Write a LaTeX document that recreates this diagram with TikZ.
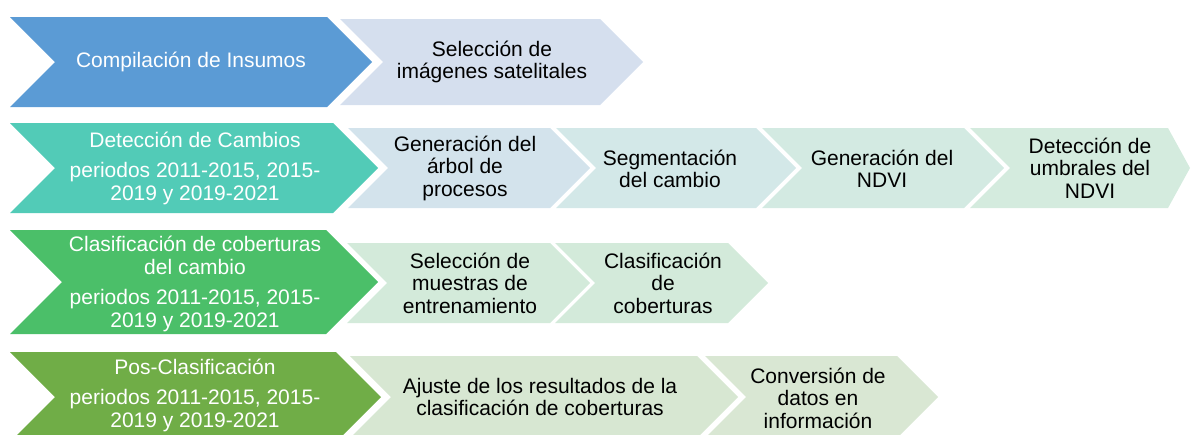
\documentclass[tikz,border=0pt]{standalone}
\usepackage{fontspec}
\setmainfont{Liberation Sans}
\definecolor{cblue}{HTML}{5B9BD5}
\definecolor{cteal}{HTML}{52CBB7}
\definecolor{cgreen}{HTML}{4BBF69}
\definecolor{colive}{HTML}{70AD47}
\definecolor{lone}{HTML}{D5DFEE}
\definecolor{ltwoa}{HTML}{D3E3EC}
\definecolor{ltwob}{HTML}{D3E8E8}
\definecolor{ltwoc}{HTML}{D3EAE2}
\definecolor{ltwod}{HTML}{D4EBDE}
\definecolor{lthree}{HTML}{D3EADA}
\definecolor{lfoura}{HTML}{D7E7D2}
\definecolor{lfourb}{HTML}{D9E7D3}
% #1 left x, #2 shoulder x, #3 top y, #4 bottom y, #5 notch depth, #6 tip depth, #7 colour
\newcommand{\chevshape}[7]{%
  \fill[#7] (#1,#3) -- (#2,#3) -- ({#2+#6},{(#3+#4)/2}) -- (#2,#4) -- (#1,#4) -- ({#1+#5},{(#3+#4)/2}) -- cycle;}
\begin{document}
\begin{tikzpicture}[x=1pt,y=-1pt,
  lbl/.style={align=center, font=\fontsize{21}{22.5}\selectfont, inner sep=0pt},
  wlbl/.style={lbl, text=white},
  blbl/.style={lbl, text=black}]
\useasboundingbox (0,0) rectangle (1193,434);
% row 1
\chevshape{10}{327}{17}{107}{45}{45}{cblue}
\chevshape{340}{600}{19}{105}{43}{43}{lone}
\node[wlbl] (r1a) at (191,62) {Compilación de Insumos};
\node[blbl] (r1b) at (492,62) {Selección de\\imágenes satelitales};
% row 2
\chevshape{10}{333}{123}{213}{45}{45}{cteal}
\chevshape{348}{550}{128}{208}{40}{40}{ltwoa}
\chevshape{556}{756}{128}{208}{40}{40}{ltwob}
\chevshape{762}{964}{128}{208}{40}{40}{ltwoc}
\chevshape{970}{1168}{128}{208}{40}{22}{ltwod}
\node[wlbl] (r2a) at (195,168) {Detección de Cambios\\[8pt]periodos 2011-2015, 2015-\\2019 y 2019-2021};
\node[blbl] (r2b) at (465,168) {Generación del\\árbol de\\procesos};
\node[blbl] (r2c) at (670,169) {Segmentación\\del cambio};
\node[blbl] (r2d) at (882,169) {Generación del\\NDVI};
\node[blbl] (r2e) at (1090,168) {Detección de\\umbrales del\\NDVI};
% row 3
\chevshape{10}{326}{230}{334}{52}{52}{cgreen}
\chevshape{347}{550}{243}{323}{40}{40}{lthree}
\chevshape{555}{728}{243}{323}{40}{40}{lthree}
\node[wlbl] (r3a) at (195,284) {Clasificación de coberturas\\del cambio\\[8pt]periodos 2011-2015, 2015-\\2019 y 2019-2021};
\node[blbl] (r3b) at (470,283) {Selección de\\muestras de\\entrenamiento};
\node[blbl] (r3c) at (663,283) {Clasificación\\de\\coberturas};
% row 4
\chevshape{10}{336}{352}{442}{45}{45}{colive}
\chevshape{350}{697}{356}{438}{41}{41}{lfoura}
\chevshape{705}{897}{356}{438}{41}{41}{lfourb}
\node[wlbl] (r4a) at (195,395) {Pos-Clasificación\\[8pt]periodos 2011-2015, 2015-\\2019 y 2019-2021};
\node[blbl] (r4b) at (540,397) {Ajuste de los resultados de la\\clasificación de coberturas};
\node[blbl] (r4c) at (818,398) {Conversión de\\datos en\\información};
\end{tikzpicture}
\end{document}
